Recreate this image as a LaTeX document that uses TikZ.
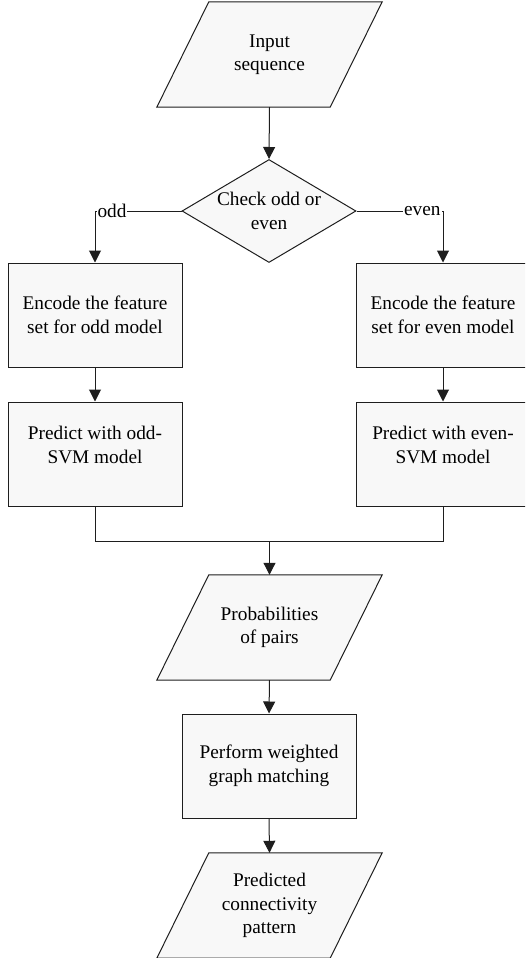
\documentclass[tikz,border=0pt]{standalone}
\usepackage{fontspec}
\setmainfont{Liberation Serif}
\usetikzlibrary{shapes.geometric,arrows.meta,backgrounds}
\definecolor{boxfill}{RGB}{248,248,248}
\definecolor{linec}{RGB}{30,30,30}
\begin{document}
\begin{tikzpicture}[x=1pt,y=-1pt,
  every node/.style={font=\fontsize{19.3}{23.5}\selectfont},
  proc/.style={draw=linec, fill=boxfill, minimum width=174pt, minimum height=104pt, inner sep=0pt, align=center, line width=1pt},
  iobody/.style={minimum width=173pt, minimum height=105pt, inner sep=0pt, align=center},
  iobox/.style={draw=linec, fill=boxfill, line width=1pt},
  dec/.style={draw=linec, fill=boxfill, diamond, minimum width=174pt, minimum height=103pt, inner sep=0pt, line width=1pt},
  arr/.style={-{Triangle[length=12pt,width=12pt]}, line width=1pt, draw=linec},
  ln/.style={line width=1pt, draw=linec},
  elabel/.style={fill=white, inner sep=1pt}
]
\clip (0,0) rectangle (525,958);
\useasboundingbox (0,0) rectangle (525,958);

\node[iobody] (inp) at (269.5,54.5) {Input\\sequence};
\node[dec, label={[align=center]center:Check odd or\\even}] (chk) at (269,211) {};
\node[proc] (enc1) at (95,315) {Encode the feature\\set for odd model};
\node[proc] (enc2) at (443,315) {Encode the feature\\set for even model};
\node[proc, label={[align=center,yshift=9pt]center:Predict with odd-\\SVM model}] (pr1) at (95,454) {};
\node[proc, label={[align=center,yshift=9pt]center:Predict with even-\\SVM model}] (pr2) at (443,454) {};
\node[iobody] (prob) at (269.5,627.5) {Probabilities\\of pairs};
\node[proc] (perf) at (269,766) {Perform weighted\\graph matching};
\node[iobody] (outp) at (269.5,905.5) {Predicted\\connectivity\\pattern};

\begin{scope}[on background layer]
\foreach \n in {inp,prob,outp}{
  \path[iobox] ([xshift=26pt]\n.north west) -- ([xshift=26pt]\n.north east)
    -- ([xshift=-26pt]\n.south east) -- ([xshift=-26pt]\n.south west) -- cycle;
}
\end{scope}

\draw[arr] (inp.south) -- (chk.north);
\draw[arr] (chk.west) -| (enc1.north) node[pos=0.5, anchor=west, elabel, xshift=1pt] {odd};
\draw[arr] (chk.east) -| (enc2.north) node[pos=0.5, anchor=east, elabel, xshift=-1pt] {even};
\draw[arr] (enc1) -- (pr1);
\draw[arr] (enc2) -- (pr2);
\coordinate (m) at (269.5,541);
\draw[ln] (pr1.south) |- (m);
\draw[ln] (pr2.south) |- (m);
\draw[arr] (m) -- (prob.north);
\draw[arr] (prob.south) -- (perf.north);
\draw[arr] (perf.south) -- (outp.north);
\end{tikzpicture}
\end{document}
